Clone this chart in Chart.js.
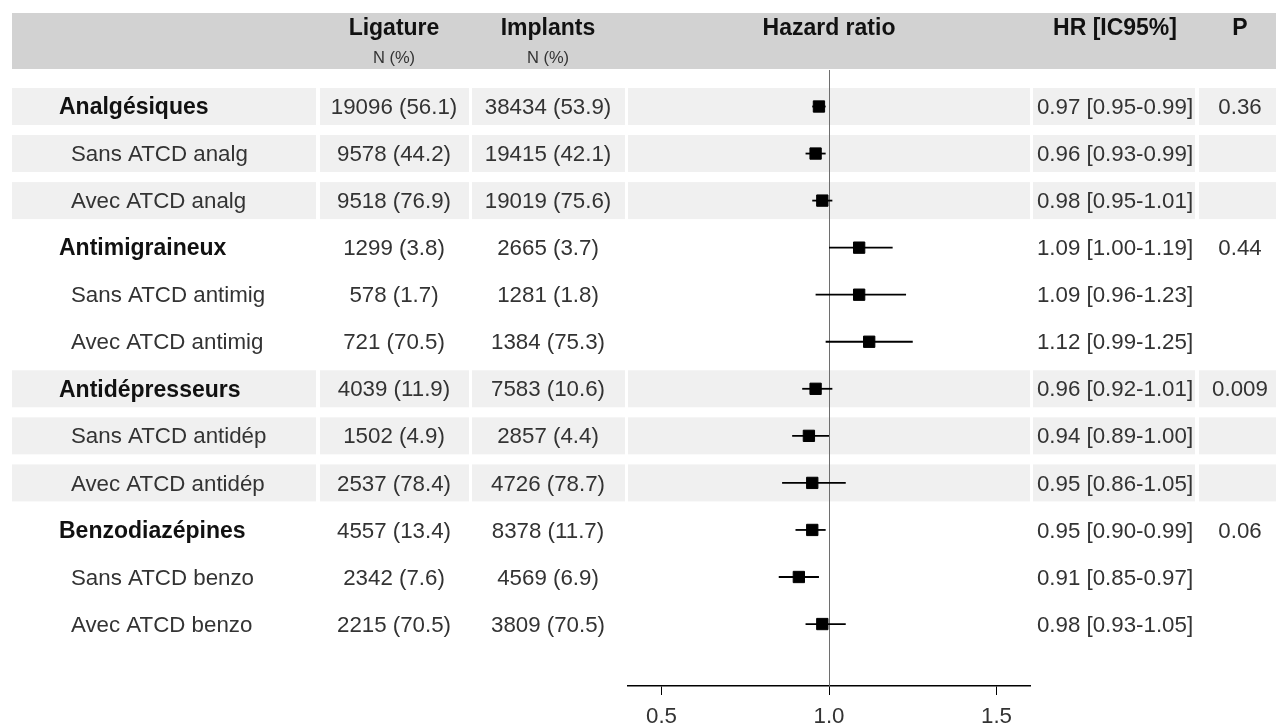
<!DOCTYPE html>
<html>
<head>
<meta charset="utf-8">
<script src="https://cdn.jsdelivr.net/npm/chart.js@4.4.1/dist/chart.umd.min.js"></script>
<style>
  html, body { margin: 0; padding: 0; background: #fff; }
  #wrap { position: relative; width: 1276px; height: 724px; }
</style>
</head>
<body>
<div id="wrap"><canvas id="c"></canvas></div>
<script>
// ---------- data ----------
const labels = ["Analgésiques","Sans ATCD analg","Avec ATCD analg","Antimigraineux","Sans ATCD antimig","Avec ATCD antimig","Antidépresseurs","Sans ATCD antidép","Avec ATCD antidép","Benzodiazépines","Sans ATCD benzo","Avec ATCD benzo"];
const isGroup = [1,0,0,1,0,0,1,0,0,1,0,0];
const shaded = [1,1,1,0,0,0,1,1,1,0,0,0];
const ligature = ["19096 (56.1)","9578 (44.2)","9518 (76.9)","1299 (3.8)","578 (1.7)","721 (70.5)","4039 (11.9)","1502 (4.9)","2537 (78.4)","4557 (13.4)","2342 (7.6)","2215 (70.5)"];
const implants = ["38434 (53.9)","19415 (42.1)","19019 (75.6)","2665 (3.7)","1281 (1.8)","1384 (75.3)","7583 (10.6)","2857 (4.4)","4726 (78.7)","8378 (11.7)","4569 (6.9)","3809 (70.5)"];
const hr = [0.97,0.96,0.98,1.09,1.09,1.12,0.96,0.94,0.95,0.95,0.91,0.98];
const lo = [0.95,0.93,0.95,1.00,0.96,0.99,0.92,0.89,0.86,0.90,0.85,0.93];
const hi = [0.99,0.99,1.01,1.19,1.23,1.25,1.01,1.00,1.05,0.99,0.97,1.05];
const pvals = ["0.36","","","0.44","","","0.009","","","0.06","",""];
const xTicks = [0.5, 1.0, 1.5];
const refValue = 1;
const headers = ["Ligature","Implants","Hazard ratio","HR [IC95%]","P"];
const subHeaders = ["N (%)","N (%)","","",""];

// ---------- layout constants ----------
const FONT = "'Liberation Sans', Arial, Helvetica, sans-serif";
const FS = 22.3;
const FSB = 23;
const cols = [[12,316],[320,469],[472,625],[628,1030],[1033,1195],[1199,1280]];
const textCenters = [null, 394, 548, 829, 1115, 1240];

const hrText = hr.map((v,i) => v.toFixed(2) + " [" + lo[i].toFixed(2) + "-" + hi[i].toFixed(2) + "]");

const tablePlugin = {
  id: 'tablePlugin',
  beforeDraw(chart) {
    const ctx = chart.ctx, y = chart.scales.y;
    ctx.save();
    ctx.fillStyle = '#fff';
    ctx.fillRect(0, 0, chart.width, chart.height);
    ctx.fillStyle = '#d2d2d2';
    ctx.fillRect(12, 13, 1276 - 12, 56);
    ctx.fillStyle = '#f0f0f0';
    labels.forEach((l, i) => {
      if (!shaded[i]) return;
      const py = y.getPixelForValue(i);
      cols.forEach(c => ctx.fillRect(c[0], py - 18.5, c[1] - c[0], 37));
    });
    ctx.restore();
  },
  beforeDatasetsDraw(chart) {
    const ctx = chart.ctx, x = chart.scales.x, a = chart.chartArea;
    const px = Math.round(x.getPixelForValue(refValue)) + 0.5;
    ctx.save();
    ctx.strokeStyle = '#6e6e6e';
    ctx.lineWidth = 1;
    ctx.beginPath();
    ctx.moveTo(px, a.top);
    ctx.lineTo(px, a.bottom);
    ctx.stroke();
    ctx.restore();
  },
  afterDraw(chart) {
    const ctx = chart.ctx, y = chart.scales.y;
    ctx.save();
    ctx.textBaseline = 'middle';
    ctx.textAlign = 'center';
    headers.forEach((h, k) => {
      ctx.font = 'bold ' + FSB + 'px ' + FONT;
      ctx.fillStyle = '#111';
      ctx.fillText(h, textCenters[k + 1], 29);
      if (subHeaders[k]) {
        ctx.font = '16.5px ' + FONT;
        ctx.fillStyle = '#333';
        ctx.fillText(subHeaders[k], textCenters[k + 1], 58);
      }
    });
    labels.forEach((l, i) => {
      const py = y.getPixelForValue(i) + 1.5;
      ctx.textAlign = 'left';
      if (isGroup[i]) {
        ctx.font = 'bold ' + FSB + 'px ' + FONT;
        ctx.fillStyle = '#111';
        ctx.fillText(l, 59, py);
      } else {
        ctx.font = FS + 'px ' + FONT;
        ctx.fillStyle = '#333';
        ctx.fillText(l, 71, py);
      }
      ctx.font = FS + 'px ' + FONT;
      ctx.fillStyle = '#333';
      ctx.textAlign = 'center';
      ctx.fillText(ligature[i], textCenters[1], py);
      ctx.fillText(implants[i], textCenters[2], py);
      ctx.fillText(hrText[i], textCenters[4], py);
      if (pvals[i]) ctx.fillText(pvals[i], textCenters[5], py);
    });
    ctx.restore();
  }
};

const ciDatasets = hr.map((v, i) => ({
  type: 'line',
  data: [{x: lo[i], y: i}, {x: hi[i], y: i}],
  borderColor: '#000',
  borderWidth: 1.8,
  pointRadius: 0,
  showLine: true,
  fill: false,
  order: 2
}));

const pointDataset = {
  type: 'scatter',
  data: hr.map((v, i) => ({x: v, y: i})),
  pointStyle: 'rect',
  pointRadius: 8,
  pointBackgroundColor: '#000',
  pointBorderColor: '#000',
  pointBorderWidth: 1,
  order: 0
};

new Chart(document.getElementById('c'), {
  type: 'scatter',
  data: { datasets: [pointDataset, ...ciDatasets] },
  options: {
    responsive: true,
    maintainAspectRatio: false,
    devicePixelRatio: 1,
    animation: false,
    events: [],
    layout: { padding: { left: 628, right: 246, top: 70, bottom: 0 } },
    plugins: { legend: { display: false }, tooltip: { enabled: false } },
    scales: {
      x: {
        type: 'linear',
        min: 0.4,
        max: 1.6,
        afterBuildTicks: s => { s.ticks = xTicks.map(v => ({ value: v })); },
        afterFit: s => { s.height = 38; },
        ticks: {
          callback: v => Number(v).toFixed(1),
          color: '#333',
          font: { family: FONT, size: FS },
          padding: 8,
          maxRotation: 0,
          autoSkip: false
        },
        grid: { display: true, drawOnChartArea: false, drawTicks: true, tickLength: 9, color: '#000', lineWidth: 1 },
        border: { display: true, color: '#000', width: 1.5 }
      },
      y: {
        type: 'linear',
        display: false,
        reverse: true,
        min: -0.776,
        max: 12.317
      }
    }
  },
  plugins: [tablePlugin]
});
</script>
</body>
</html>
